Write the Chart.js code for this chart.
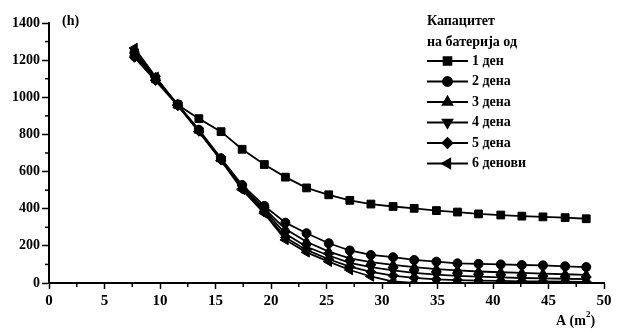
<!DOCTYPE html>
<html>
<head>
<meta charset="utf-8">
<script src="https://cdn.jsdelivr.net/npm/chart.js@4.4.1/dist/chart.umd.min.js"></script>
<style>
  html, body { margin: 0; padding: 0; background: #fff; }
</style>
</head>
<body>
<canvas id="myChart" width="617" height="331"></canvas>
<script>
// area A (m2) on the x axis
var areas = [7.7, 9.6, 11.6, 13.5, 15.5, 17.4, 19.4, 21.3, 23.2, 25.2, 27.1,
             29.0, 31.0, 32.9, 34.9, 36.8, 38.7, 40.7, 42.6, 44.5, 46.5, 48.4];

// hours, one array per battery capacity
var day1 = [1240, 1100, 960, 885, 815, 720, 638, 570, 512, 475, 445,
            425, 412, 402, 390, 382, 372, 366, 360, 356, 352, 346];
var day2 = [1220, 1095, 962, 825, 672, 528, 415, 325, 268, 214, 175,
            151, 139, 124, 115, 106, 103, 100, 97, 95, 90, 86];
var day3 = [1250, 1105, 960, 822, 668, 520, 400, 290, 222, 169, 133,
            112, 98, 85, 75, 68, 62, 58, 54, 50, 47, 44];
var day4 = [1230, 1100, 958, 820, 665, 515, 392, 265, 195, 148, 108,
            85, 68, 55, 45, 38, 34, 30, 27, 25, 23, 21];
var day5 = [1215, 1090, 955, 818, 662, 508, 382, 245, 178, 128, 88,
            60, 40, 28, 20, 16, 13, 11, 9, 8, 7, 6];
var day6 = [1265, 1110, 958, 815, 660, 502, 375, 232, 165, 115, 70,
            35, 8, 0, 0, 0, 0, 0, 0, 0, 0, 0];

var labels = ["1 ден", "2 дена", "3 дена", "4 дена", "5 дена", "6 денови"];
var legendTitle = ["Капацитет", "на батерија од"];
var xTicks = [0, 5, 10, 15, 20, 25, 30, 35, 40, 45, 50];
var yTicks = [0, 200, 400, 600, 800, 1000, 1200, 1400];

var FONT = "'Liberation Serif', 'DejaVu Serif', serif";

// marker styles, same order as labels
var markers = [
    { style: 'rect', rot: 0, r: 5.5 },
    { style: 'circle', rot: 0, r: 4.5 },
    { style: 'triangle', rot: 0, r: 5.5 },
    { style: 'triangle', rot: 180, r: 5.5 },
    { style: 'rectRot', rot: 0, r: 5 },
    { style: 'triangle', rot: -90, r: 5.5 }
];

function toPoints(ys) {
    var pts = [];
    for (let i = 0; i < areas.length; ++i) {
        pts.push({ x: areas[i], y: ys[i] });
    }
    return pts;
}

var allSeries = [day1, day2, day3, day4, day5, day6];
var datasets = [];
for (let i = 0; i < allSeries.length; ++i) {
    datasets.push({
        label: labels[i],
        data: toPoints(allSeries[i]),
        borderColor: '#000',
        backgroundColor: '#000',
        borderWidth: 1.8,
        pointStyle: markers[i].style,
        rotation: markers[i].rot,
        pointRadius: markers[i].r,
        pointBorderWidth: 1,
        pointBorderColor: '#000',
        pointBackgroundColor: '#000',
        tension: 0
    });
}

// minor ticks, axis labels and the legend box
const extras = {
    id: 'extras',
    afterDraw(chart) {
        const ctx = chart.ctx;
        const xs = chart.scales.x;
        const ys = chart.scales.y;
        const area = chart.chartArea;
        ctx.save();
        ctx.strokeStyle = '#000';
        ctx.lineWidth = 1.5;
        // minor y ticks
        for (let v = 100; v < 1400; v += 200) {
            let py = ys.getPixelForValue(v);
            ctx.beginPath();
            ctx.moveTo(area.left - 4, py);
            ctx.lineTo(area.left, py);
            ctx.stroke();
        }
        // minor x ticks
        for (let v = 2.5; v < 50; v += 5) {
            let px = xs.getPixelForValue(v);
            ctx.beginPath();
            ctx.moveTo(px, area.bottom);
            ctx.lineTo(px, area.bottom + 4);
            ctx.stroke();
        }
        ctx.fillStyle = '#000';
        ctx.font = 'bold 14px ' + FONT;
        ctx.textBaseline = 'middle';
        ctx.textAlign = 'left';
        ctx.fillText('(h)', 62, 21);
        // x axis title with superscript
        ctx.fillText('A (m', 556, 321);
        let w = ctx.measureText('A (m').width;
        ctx.font = 'bold 9px ' + FONT;
        ctx.fillText('2', 556 + w, 315);
        let w2 = ctx.measureText('2').width;
        ctx.font = 'bold 14px ' + FONT;
        ctx.fillText(')', 556 + w + w2, 321);

        // legend
        const lx = 427, lineLen = 41;
        ctx.font = 'bold 14px ' + FONT;
        ctx.fillText(legendTitle[0], lx, 21);
        ctx.fillText(legendTitle[1], lx, 42);
        for (let i = 0; i < labels.length; ++i) {
            let ly = 61 + i * 20.5;
            ctx.lineWidth = 1.8;
            ctx.beginPath();
            ctx.moveTo(lx, ly);
            ctx.lineTo(lx + lineLen, ly);
            ctx.stroke();
            Chart.helpers.drawPoint(ctx, {
                pointStyle: markers[i].style,
                rotation: markers[i].rot,
                radius: markers[i].r,
                borderWidth: 1
            }, lx + lineLen / 2, ly);
            ctx.fillStyle = '#000';
            ctx.fill();
            ctx.fillText(labels[i], lx + lineLen + 4, ly);
        }
        ctx.restore();
    }
};

const rendering = document.getElementById('myChart').getContext('2d');
const chartconfig = {
    type: 'line',
    data: { datasets: datasets },
    options: {
        responsive: false,
        animation: false,
        layout: { padding: { top: 23, right: 13, left: 0, bottom: 0 } },
        plugins: { legend: { display: false }, tooltip: { enabled: false } },
        scales: {
            x: {
                type: 'linear',
                min: 0,
                max: 50,
                afterBuildTicks: function (scale) {
                    scale.ticks = xTicks.map(function (v) { return { value: v }; });
                },
                afterFit: function (scale) { scale.height = 48; },
                border: { display: true, color: '#000', width: 2 },
                grid: { drawOnChartArea: false, drawTicks: true, tickLength: 6, tickColor: '#000', tickWidth: 1.5 },
                ticks: {
                    color: '#000', padding: 3, maxRotation: 0,
                    font: { family: FONT, size: 15, weight: 'bold' },
                    callback: function (v) { return String(v); }
                }
            },
            y: {
                min: 0,
                max: 1400,
                afterBuildTicks: function (scale) {
                    scale.ticks = yTicks.map(function (v) { return { value: v }; });
                },
                afterFit: function (scale) { scale.width = 49; },
                border: { display: true, color: '#000', width: 2 },
                grid: { drawOnChartArea: false, drawTicks: true, tickLength: 7, tickColor: '#000', tickWidth: 1.5 },
                ticks: {
                    color: '#000', padding: 2,
                    font: { family: FONT, size: 14, weight: 'bold' },
                    callback: function (v) { return String(v); }
                }
            }
        }
    },
    plugins: [extras]
};
let renderingChart = new Chart(rendering, chartconfig);
</script>
</body>
</html>
